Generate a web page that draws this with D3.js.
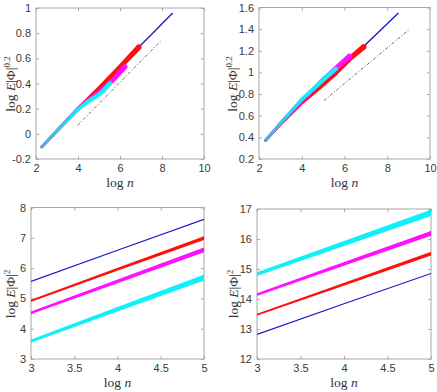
<!DOCTYPE html>
<html><head><meta charset="utf-8">
<script src="https://cdn.jsdelivr.net/npm/d3@7"></script>
<style>
html,body{margin:0;padding:0;background:#fff;}
svg{display:block;}
.tick text{font-family:"Liberation Sans",Arial,sans-serif;font-size:11px;fill:#3a3a3a;}
.lab{font-family:"Liberation Serif","DejaVu Serif",serif;font-size:13.5px;fill:#333;}
</style></head>
<body>
<svg id="c" width="437" height="392"></svg>
<script>
// ---------- DATA ----------
// Top-left panel: log E|Phi|^0.2 vs log n
const tlBlueX = [2.27, 3, 4, 5, 6, 6.9, 7.5, 8, 8.51];
const tlBlueY = [-0.105, 0.025, 0.2, 0.36, 0.53, 0.69, 0.79, 0.875, 0.96];
const tlRedX = [2.27, 3, 4, 5, 6, 6.9];
const tlRedY = [-0.105, 0.025, 0.2, 0.36, 0.53, 0.69];
const tlMagX = [2.27, 3, 4, 4.6, 5.0, 5.68, 6.24];
const tlMagY = [-0.105, 0.025, 0.2, 0.285, 0.33, 0.43, 0.535];
const tlCyanX = [2.27, 3, 4, 4.5, 4.9, 5.2, 5.52];
const tlCyanY = [-0.105, 0.025, 0.195, 0.26, 0.30, 0.34, 0.40];
const tlRefX = [3.98, 7.95];
const tlRefY = [0.067, 0.74];
const tlXTicks = [2, 4, 6, 8, 10];
const tlYTicks = [-0.2, 0, 0.2, 0.4, 0.6, 0.8, 1];

// Top-right panel
const trBlueX = [2.3, 3, 4, 5, 5.56, 6.26, 6.88, 7.5, 8, 8.52];
const trBlueY = [0.37, 0.52, 0.72, 0.89, 0.99, 1.13, 1.237, 1.355, 1.45, 1.55];
const trRedX = [2.3, 3, 4, 5, 5.56, 6.26, 6.9];
const trRedY = [0.37, 0.52, 0.72, 0.89, 0.99, 1.13, 1.237];
const trMagX = [2.3, 3, 4, 5, 5.56, 6.24];
const trMagY = [0.37, 0.525, 0.74, 0.93, 1.03, 1.15];
const trCyanX = [2.3, 3, 4, 5, 5.6];
const trCyanY = [0.37, 0.53, 0.75, 0.93, 1.035];
const trRefX = [5.04, 9.05];
const trRefY = [0.74, 1.40];
const trXTicks = [2, 4, 6, 8, 10];
const trYTicks = [0.2, 0.4, 0.6, 0.8, 1, 1.2, 1.4, 1.6];

// Bottom-left panel: log E|Phi|^2 vs log n
const blX = [3, 4, 5];
const blBlueY = [5.56, 6.59, 7.61];
const blRedY = [4.92, 5.96, 6.99];
const blMagY = [4.52, 5.56, 6.60];
const blCyanY = [3.59, 4.64, 5.69];
const blXTicks = [3, 3.5, 4, 4.5, 5];
const blYTicks = [3, 4, 5, 6, 7, 8];

// Bottom-right panel
const brX = [3, 4, 5];
const brBlueY = [12.82, 13.84, 14.85];
const brRedY = [13.48, 14.49, 15.51];
const brMagY = [14.15, 15.17, 16.19];
const brCyanY = [14.83, 15.85, 16.87];
const brXTicks = [3, 3.5, 4, 4.5, 5];
const brYTicks = [12, 13, 14, 15, 16, 17];

// ---------- DRAW ----------
const svg = d3.select("#c");
const defs = svg.append("defs");
const C = {blue:"#1414c8", red:"#ff1010", mag:"#ff10ff", cyan:"#10f0f8", box:"#a8a8a8"};

function fmt(v){ return String(+v.toFixed(2)); }

function panel(o){
  const g = svg.append("g");
  const x = d3.scaleLinear().domain(o.xd).range([o.l, o.r]);
  const y = d3.scaleLinear().domain(o.yd).range([o.b, o.t]);
  g.append("rect").attr("x", o.l).attr("y", o.t).attr("width", o.r-o.l).attr("height", o.b-o.t)
    .attr("fill","#fff").attr("stroke", C.box).attr("stroke-width",1);
  const ax = (axis, tr) => {
    const a = g.append("g").attr("transform", tr).call(axis);
    a.select(".domain").remove();
    a.selectAll(".tick line").attr("stroke", C.box);
    return a;
  };
  ax(d3.axisBottom(x).tickValues(o.xt).tickSize(-3).tickPadding(5).tickFormat(fmt), `translate(0,${o.b})`);
  ax(d3.axisTop(x).tickValues(o.xt).tickSize(-3).tickFormat(""), `translate(0,${o.t})`);
  ax(d3.axisLeft(y).tickValues(o.yt).tickSize(-3).tickPadding(5).tickFormat(fmt), `translate(${o.l},0)`);
  ax(d3.axisRight(y).tickValues(o.yt).tickSize(-3).tickFormat(""), `translate(${o.r},0)`);
  const clip = "clip"+o.id;
  defs.append("clipPath").attr("id", clip).append("rect")
    .attr("x", o.l).attr("y", o.t).attr("width", o.r-o.l).attr("height", o.b-o.t);
  const d = g.append("g").attr("clip-path", `url(#${clip})`);
  const xl = g.append("text").attr("class","lab").attr("x",(o.l+o.r)/2).attr("y",o.b+28)
    .attr("text-anchor","middle");
  xl.append("tspan").text("log ");
  xl.append("tspan").attr("font-style","italic").text("n");
  const yl = g.append("text").attr("class","lab")
    .attr("transform",`translate(${o.yl},${o.ylc}) rotate(-90)`).attr("text-anchor","middle");
  yl.append("tspan").text("log ");
  yl.append("tspan").attr("font-style","italic").text("E");
  yl.append("tspan").text("|Φ|");
  yl.append("tspan").attr("dy",-5).attr("font-size","9px").text(o.pow);
  return {x, y, d};
}

function band(P, xs, ys, w0, w1, fill){
  const pts = xs.map((v,i)=>[P.x(v), P.y(ys[i])]);
  const n = pts.length;
  const x0 = xs[0], x1 = xs[n-1];
  const ws = xs.map(v => w0 + (w1-w0)*(v-x0)/(x1-x0));
  const top = [], bot = [];
  for(let i=0;i<n;i++){
    const a = pts[Math.max(0,i-1)], b = pts[Math.min(n-1,i+1)];
    let dx=b[0]-a[0], dy=b[1]-a[1]; const L=Math.hypot(dx,dy)||1;
    const nx=-dy/L, ny=dx/L, h=ws[i]/2;
    top.push([pts[i][0]+nx*h, pts[i][1]+ny*h]);
    bot.push([pts[i][0]-nx*h, pts[i][1]-ny*h]);
  }
  const poly = top.concat(bot.reverse());
  P.d.append("path").attr("d", d3.line()(poly)+"Z").attr("fill", fill);
  P.d.append("circle").attr("cx",pts[0][0]).attr("cy",pts[0][1]).attr("r",w0/2).attr("fill",fill);
  P.d.append("circle").attr("cx",pts[n-1][0]).attr("cy",pts[n-1][1]).attr("r",w1/2).attr("fill",fill);
}
function thin(P, xs, ys, color, w, dash){
  const p = P.d.append("path").attr("d", d3.line().x((v,i)=>P.x(v)).y((v,i)=>P.y(ys[i]))(xs))
    .attr("fill","none").attr("stroke",color).attr("stroke-width",w);
  if(dash) p.attr("stroke-dasharray", dash);
}
function grad(id, P, xa, xb){
  const lg = defs.append("linearGradient").attr("id",id).attr("gradientUnits","userSpaceOnUse")
    .attr("x1",P.x(xa)).attr("x2",P.x(xb)).attr("y1",0).attr("y2",0);
  lg.append("stop").attr("offset",0).attr("stop-color","#5aa6dc");
  lg.append("stop").attr("offset",1).attr("stop-color",C.cyan);
  return `url(#${id})`;
}

// Top-left
const TL = panel({id:"tl", l:36, r:204, t:8, b:159, xd:[2,10], yd:[-0.2,1], xt:tlXTicks, yt:tlYTicks, yl:15, ylc:84, pow:"0.2"});
thin(TL, tlBlueX, tlBlueY, C.blue, 1.3);
band(TL, tlRedX, tlRedY, 2.5, 5.5, C.red);
band(TL, tlMagX, tlMagY, 2.5, 5, C.mag);
band(TL, tlCyanX, tlCyanY, 3, 4.5, grad("gtl", TL, 2.3, 4.2));
thin(TL, tlRefX, tlRefY, "#444", 0.8, "3,2,1,2");

// Top-right
const TR = panel({id:"tr", l:259, r:430, t:7.5, b:159, xd:[2,10], yd:[0.2,1.6], xt:trXTicks, yt:trYTicks, yl:237, ylc:84, pow:"0.2"});
thin(TR, trBlueX, trBlueY, C.blue, 1.3);
band(TR, trRedX, trRedY, 2.5, 5.5, C.red);
band(TR, trMagX, trMagY, 2.5, 5.5, C.mag);
band(TR, trCyanX, trCyanY, 3, 4.5, grad("gtr", TR, 2.3, 4.2));
thin(TR, trRefX, trRefY, "#444", 0.8, "3,2,1,2");

// Bottom-left
const BL = panel({id:"bl", l:31, r:204, t:207.5, b:359, xd:[3,5], yd:[3,8], xt:blXTicks, yt:blYTicks, yl:15, ylc:294, pow:"2"});
thin(BL, blX, blBlueY, C.blue, 1.1);
band(BL, blX, blRedY, 1.8, 3.6, C.red);
band(BL, blX, blMagY, 2.5, 4.5, C.mag);
band(BL, blX, blCyanY, 3, 5.5, C.cyan);

// Bottom-right
const BR = panel({id:"br", l:257, r:431, t:209, b:359, xd:[3,5], yd:[12,17], xt:brXTicks, yt:brYTicks, yl:238, ylc:294, pow:"2"});
thin(BR, brX, brBlueY, C.blue, 1.1);
band(BR, brX, brRedY, 1.8, 3.6, C.red);
band(BR, brX, brMagY, 2.5, 4.5, C.mag);
band(BR, brX, brCyanY, 3.5, 6, C.cyan);
</script>
</body></html>
